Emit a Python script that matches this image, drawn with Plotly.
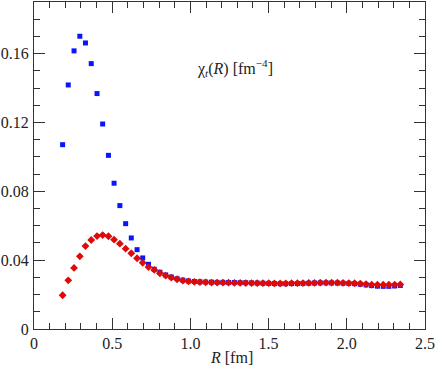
import plotly.graph_objects as go

# radial grid R [fm]
R = [0.183, 0.219, 0.256, 0.293, 0.329, 0.366, 0.403, 0.439, 0.476, 0.512,
     0.549, 0.586, 0.622, 0.659, 0.695, 0.732, 0.769, 0.805, 0.842, 0.878,
     0.915, 0.952, 0.988, 1.025, 1.061, 1.098, 1.135, 1.171, 1.208, 1.244,
     1.281, 1.318, 1.354, 1.391, 1.427, 1.464, 1.501, 1.537, 1.574, 1.610,
     1.647, 1.684, 1.720, 1.757, 1.793, 1.830, 1.867, 1.903, 1.940, 1.976,
     2.013, 2.050, 2.086, 2.123, 2.159, 2.196, 2.233, 2.269, 2.306, 2.342]

chi_blue = [0.1071, 0.1418, 0.1616, 0.1701, 0.1662, 0.1542, 0.1368, 0.1191, 0.1009, 0.0847,
            0.0717, 0.0612, 0.0529, 0.0461, 0.0413, 0.0376, 0.0347, 0.0330, 0.0314, 0.0302,
            0.0292, 0.0284, 0.0279, 0.0276, 0.0274, 0.0273, 0.0272, 0.0271, 0.0271, 0.0270,
            0.0270, 0.0269, 0.0269, 0.0268, 0.0267, 0.0266, 0.0265, 0.0264, 0.0263, 0.0263,
            0.0264, 0.0264, 0.0265, 0.0266, 0.0267, 0.0268, 0.0268, 0.0268, 0.0267, 0.0266,
            0.0265, 0.0263, 0.0260, 0.0256, 0.0252, 0.0249, 0.0248, 0.0248, 0.0250, 0.0253]

chi_red = [0.0196, 0.0283, 0.0355, 0.0422, 0.0482, 0.0517, 0.0540, 0.0546, 0.0539, 0.0519,
           0.0496, 0.0467, 0.0440, 0.0411, 0.0385, 0.0360, 0.0343, 0.0324, 0.0310, 0.0298,
           0.0289, 0.0281, 0.0277, 0.0274, 0.0272, 0.0271, 0.0270, 0.0270, 0.0269, 0.0269,
           0.0268, 0.0268, 0.0267, 0.0267, 0.0266, 0.0266, 0.0266, 0.0265, 0.0265, 0.0265,
           0.0266, 0.0266, 0.0267, 0.0268, 0.0268, 0.0269, 0.0269, 0.0269, 0.0269, 0.0268,
           0.0267, 0.0266, 0.0264, 0.0261, 0.0258, 0.0257, 0.0257, 0.0257, 0.0258, 0.0259]

x_ticks = [0, 0.5, 1.0, 1.5, 2.0, 2.5]
x_labels = ["0", "0.5", "1.0", "1.5", "2.0", "2.5"]
y_ticks = [0, 0.04, 0.08, 0.12, 0.16]
y_labels = ["0", "0.04", "0.08", "0.12", "0.16"]

FONT = "Liberation Serif"

fig = go.Figure()
fig.add_trace(go.Scatter(x=R, y=chi_blue, mode="markers",
                         marker=dict(symbol="square", size=5, color="#0a14ff")))
fig.add_trace(go.Scatter(x=R, y=chi_red, mode="markers",
                         marker=dict(symbol="diamond", size=6, color="#dd0a0a")))

axis_style = dict(showline=True, linecolor="#333333", linewidth=1, mirror="ticks",
                  ticks="inside", ticklen=11, tickcolor="#333333", tickwidth=1,
                  showgrid=False, zeroline=False, automargin=False,
                  tickfont=dict(family=FONT, size=16, color="#222222"))

fig.update_xaxes(range=[0, 2.5], tickvals=x_ticks, ticktext=x_labels,
                 minor=dict(dtick=0.1, ticks="inside", ticklen=6, tickcolor="#333333"),
                 **axis_style)
fig.update_yaxes(range=[0, 0.19], tickvals=y_ticks, ticktext=y_labels, ticklabelstandoff=1,
                 minor=dict(dtick=0.01, ticks="inside", ticklen=6, tickcolor="#333333"),
                 **axis_style)

# x-axis title
fig.add_annotation(text="<i>R</i> [fm]", xref="paper", yref="paper",
                   x=0.505, y=-0.086, yanchor="middle", showarrow=False,
                   font=dict(family=FONT, size=16, color="#222222"))

fig.add_annotation(text="χ<sub><i>t</i></sub>(<i>R</i>) [fm<sup>−4</sup>]",
                   xref="paper", yref="paper", x=0.515, y=0.838, showarrow=False,
                   font=dict(family=FONT, size=16, color="#222222"))

fig.update_layout(width=436, height=366, showlegend=False,
                  font=dict(family=FONT),
                  plot_bgcolor="white", paper_bgcolor="white",
                  margin=dict(l=34, r=11, t=2, b=37))

# page body has a default 8px margin; drop it so the figure fills the window
fig.write_html("out.html", config={"displayModeBar": False},
               post_script="document.body.style.margin='0';")
